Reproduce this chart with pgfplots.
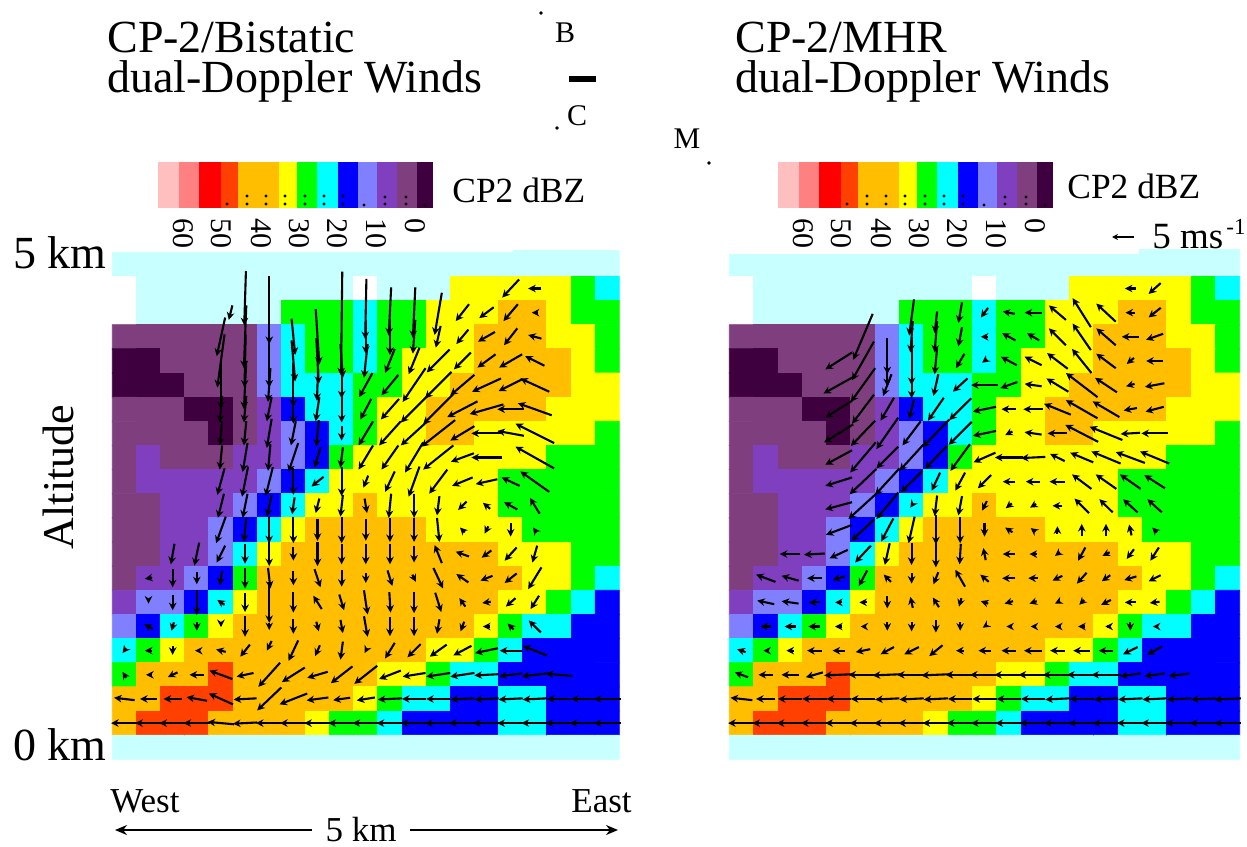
\documentclass[border=0pt]{standalone}
\usepackage{fontspec}
\setmainfont{Liberation Serif}
\usepackage{pgfplots}
\usepackage{pgfplotstable}
\pgfplotsset{compat=1.18}
\usetikzlibrary{arrows.meta}
% reflectivity classes, row by row from the top, 21 per row
\pgfplotstableread[row sep=\\]{c\\
1\\1\\1\\1\\1\\1\\1\\1\\1\\1\\1\\1\\1\\1\\1\\1\\1\\1\\1\\1\\1\\
0\\1\\1\\1\\1\\1\\1\\1\\1\\1\\0\\1\\1\\1\\9\\9\\9\\9\\9\\8\\7\\
0\\1\\1\\1\\1\\1\\1\\8\\8\\8\\7\\8\\8\\9\\9\\9\\10\\10\\9\\8\\8\\
3\\3\\3\\3\\3\\3\\5\\7\\8\\8\\7\\8\\8\\9\\9\\10\\10\\10\\9\\9\\8\\
2\\2\\3\\3\\3\\3\\5\\7\\8\\8\\7\\8\\9\\9\\9\\10\\10\\10\\10\\9\\8\\
2\\2\\2\\3\\3\\3\\5\\7\\7\\7\\8\\8\\9\\9\\10\\10\\10\\10\\10\\9\\9\\
3\\3\\3\\2\\2\\3\\4\\6\\7\\7\\8\\9\\9\\10\\10\\10\\10\\10\\9\\9\\9\\
3\\3\\3\\3\\2\\3\\4\\5\\6\\7\\8\\9\\9\\10\\10\\9\\9\\9\\9\\9\\8\\
3\\4\\3\\3\\3\\4\\4\\5\\6\\8\\9\\9\\9\\9\\9\\9\\9\\9\\8\\8\\8\\
3\\4\\4\\4\\4\\4\\5\\6\\7\\9\\9\\9\\9\\9\\9\\9\\8\\8\\8\\8\\8\\
3\\3\\4\\4\\4\\5\\6\\7\\9\\9\\10\\9\\9\\9\\9\\9\\8\\8\\8\\8\\8\\
3\\3\\4\\4\\5\\6\\7\\9\\10\\10\\10\\10\\10\\9\\9\\9\\9\\8\\8\\8\\8\\
3\\3\\4\\4\\5\\7\\9\\10\\10\\10\\10\\10\\10\\10\\10\\10\\9\\9\\9\\8\\8\\
3\\4\\4\\5\\6\\8\\10\\10\\10\\10\\10\\10\\10\\10\\10\\10\\10\\9\\9\\8\\7\\
4\\5\\5\\6\\7\\9\\10\\10\\10\\10\\10\\10\\10\\10\\10\\10\\9\\9\\8\\7\\6\\
5\\6\\7\\8\\9\\10\\10\\10\\10\\10\\10\\10\\10\\10\\10\\9\\8\\7\\7\\6\\6\\
7\\8\\9\\10\\10\\10\\10\\10\\10\\10\\10\\10\\10\\9\\9\\8\\7\\6\\6\\6\\6\\
8\\10\\10\\10\\11\\10\\10\\10\\10\\10\\10\\9\\9\\8\\7\\7\\6\\6\\6\\6\\6\\
10\\10\\11\\11\\11\\10\\10\\10\\10\\10\\9\\8\\7\\7\\6\\6\\7\\7\\6\\6\\6\\
10\\11\\11\\11\\10\\10\\10\\10\\9\\8\\8\\7\\6\\6\\6\\6\\7\\7\\6\\6\\6\\
1\\1\\1\\1\\1\\1\\1\\1\\1\\1\\1\\1\\1\\1\\1\\1\\1\\1\\1\\1\\1\\
}\gridtable
% left winds: column, row (centre of arrow), u, v (v is downward), in cell units
\pgfplotstableread[row sep=\\]{x y u v\\
16 1 -0.7 0.75\\ 17 1 -0.55 0\\
4.4 2 -0.15 0.6\\ 5 1.4 -0.07 2.25\\ 6 1.9 0 2.8\\ 9 2.45 -0.05 4.3\\ 10 1.85 -0.05 2.5\\ 11 1.95 -0.1 2\\ 12 2 -0.1 2.1\\ 13 2.05 -0.3 1.75\\ 14 2 -0.55 0.7\\ 15 2 -0.6 0.45\\ 16 2 -0.6 0.7\\ 17 2 -0.25 0\\
4 3 -0.35 1.6\\ 5 3 -0.1 2.6\\ 7 3 0.15 1.5\\ 8 3 0.15 2.3\\ 10 3 0 1.4\\ 11 3 0 1.5\\ 12 3 -0.1 1.4\\ 13 3 -0.2 0.9\\ 14 3 -0.5 0.6\\ 15 3 -0.7 0.4\\ 16 3 -0.55 0.7\\ 17 3 -0.55 -0.15\\
4 4 -0.3 2.2\\ 5 4 -0.05 2.2\\ 6 4 0 2.2\\ 7 4 0.15 1.7\\ 8 4 0.1 1.9\\ 9 4 0.1 1.4\\ 10 4 -0.15 1.4\\ 11 4 -0.4 1\\ 12 4 -0.45 1.1\\ 13 4 -0.95 0.95\\ 14 4 -0.7 0.7\\ 15 4 -0.75 0.55\\ 16 4 -0.95 0.55\\ 17 4 -0.8 -0.4\\
4 5 0 2\\ 5 5 -0.1 2\\ 6 5 -0.1 1.4\\ 7 5 0 1.8\\ 8 5 -0.05 1.3\\ 9 5 0 1.1\\ 10 5 -0.55 1\\ 11 5 -0.7 0.85\\ 12 5 -0.95 1.4\\ 13 5 -1.1 1.1\\ 14 5 -1 0.85\\ 15 5 -1.2 0.55\\ 16 5 -1 0.5\\ 17 5 -1.2 -0.55\\
4 6 -0.1 1.1\\ 5 6 -0.1 1.1\\ 6 6 -0.2 1\\ 7 6 0 1.2\\ 8 6 -0.15 1\\ 9 6 0 1.1\\ 10 6 -0.45 0.85\\ 11 6 -0.75 0.85\\ 12 6 -1.1 1.1\\ 13 6 -1.25 1.25\\ 14 6 -1.25 0.65\\ 15 6 -1.4 0.4\\ 16 6 -1.1 0\\ 17 6 -1.4 -0.5\\
4 7 -0.1 1\\ 5 7 -0.1 1\\ 6 7 -0.2 1.2\\ 7 7 -0.2 1\\ 8 7 -0.1 1.1\\ 9 7 0 0.6\\ 10 7 -0.6 1\\ 11 7 -0.9 1\\ 12 7 -1.1 1\\ 13 7 -1.4 1.1\\ 14 7 -1 0.6\\ 15 7 -1.25 0\\ 16 7 -1.1 -0.2\\ 17 7 -1.6 -0.8\\
4 8 -0.1 1\\ 5 8 -0.2 1.2\\ 6 8 -0.1 1.1\\ 7 8 -0.4 1.2\\ 8 8 -0.25 0.85\\ 9 8 -0.1 0.85\\ 10 8 -0.6 1\\ 11 8 -0.7 1\\ 12 8 -0.75 1.25\\ 13 8 -1.25 1\\ 14 8 -0.95 0.35\\ 15 8 -1.25 0\\ 17 8 -1.6 -0.9\\
4 9 -0.3 1.1\\ 5 9 -0.25 1.25\\ 6 9 -0.3 1.2\\ 7 9 0 1.1\\ 8 9 -0.5 0.4\\ 9 9 0 1.2\\ 10 9 -0.2 0.5\\ 11 9 -0.4 0.85\\ 12 9 -0.45 1.25\\ 13 9 -0.75 1\\ 14 9 -0.85 0.35\\ 15 9 -0.9 0.2\\ 16 9 -0.75 -0.35\\ 17 9 -1.2 -0.85\\
4 10 -0.25 1\\ 5 10 -0.2 1\\ 6 10 -0.2 0.9\\ 7 10 -0.1 0.7\\ 8 10 -0.15 0.6\\ 9 10 -0.1 0.9\\ 10 10 0.1 0.6\\ 11 10 -0.1 1\\ 12 10 0 1\\ 13 10 -0.1 0.8\\ 14 10 -0.35 0.35\\ 15 10 -0.3 -0.25\\ 16 10 -0.55 -0.3\\ 17 10 -0.4 -0.65\\
4 11 -0.4 1.1\\ 5 11 -0.1 1\\ 6 11 0 1.1\\ 7 11 0 1.1\\ 8 11 0 0.9\\ 9 11 0 1.1\\ 10 11 0 0.9\\ 11 11 0 1\\ 12 11 0 1\\ 13 11 0.1 1\\ 14 11 -0.2 -0.2\\ 15 11 -0.15 0.3\\ 16 11 0 0.55\\ 17 11 -0.15 -0.2\\
2 12 -0.15 0.85\\ 3 12 -0.2 0.95\\ 4 12 -0.35 0.7\\ 5 12 0 0.8\\ 6 12 0 1\\ 7 12 0 0.55\\ 8 12 0 1\\ 9 12 0 0.85\\ 10 12 0 0.85\\ 11 12 0 0.85\\ 12 12 0 0.7\\ 13 12 -0.3 -0.75\\ 14 12 -0.55 -0.2\\ 15 12 -0.4 0.3\\ 16 12 -0.5 0.55\\ 17 12 -0.2 0.7\\
1 13 -0.3 0.05\\ 2 13 0 0.75\\ 3 13 0 0.5\\ 4 13 -0.1 0.6\\ 5 13 0 0.85\\ 6 13 0.1 0.85\\ 7 13 0 0.6\\ 8 13 0.25 0.75\\ 9 13 0 0.7\\ 10 13 0 0.4\\ 11 13 0.2 0.65\\ 12 13 0.15 0.3\\ 13 13 0.4 0.85\\ 14 13 -0.5 -0.35\\ 15 13 -0.5 0.2\\ 16 13 -0.5 0.4\\ 17 13 -0.55 0.9\\
1 14 0 0.1\\ 2 14 0 0.65\\ 3 14 0 1.05\\ 4 14 -0.3 -0.2\\ 5 14 0 0.8\\ 6 14 0 1.7\\ 7 14 0 0.85\\ 8 14 -0.35 -0.55\\ 9 14 0.2 0.65\\ 10 14 0.15 1\\ 11 14 0.05 0.85\\ 12 14 0 0.9\\ 13 14 0.25 0.8\\ 14 14 -0.25 -0.35\\ 15 14 -0.35 0.05\\ 16 14 -0.4 0.35\\ 17 14 -0.35 0.55\\
1 15 -0.35 -0.2\\ 2 15 -0.1 0.35\\ 3 15 0 0.35\\ 4 15 0 0.05\\ 5 15 0 0.85\\ 6 15 0 0.3\\ 7 15 0 0.6\\ 8 15 0.1 0.4\\ 9 15 0.1 0.55\\ 10 15 0.15 0.85\\ 11 15 0 0.8\\ 12 15 0 0.8\\ 13 15 -0.1 0.6\\ 14 15 -0.15 0.4\\ 15 15 -0.3 0\\ 16 15 -0.25 -0.25\\ 17 15 -0.5 -0.5\\
0 16 -0.15 0.2\\ 1 16 -0.3 0\\ 2 16 0 0.35\\ 3 16 -0.15 0\\ 4 16 -0.4 -0.1\\ 5 16 -0.4 0.5\\ 6 15.8 -0.2 0.4\\ 7 16 -0.4 0.85\\ 8 16 -0.2 0.45\\ 9 16 -0.1 0.75\\ 10 16 -0.1 0.2\\ 11 16 -0.4 0.65\\ 12 16 -0.55 0.55\\ 13 16 -0.7 0.5\\ 14 16 -0.75 0.4\\ 15 16 -0.95 0.2\\ 16 16 -0.9 0\\ 17 16 -1 -0.4\\
0 17 -0.15 -0.25\\ 1 17 -0.2 0\\ 2 17 -0.4 0.2\\ 3 17 -0.6 0\\ 4 17 -0.95 -0.35\\ 5 17 -0.7 0.15\\ 6 17 -0.9 1\\ 7 17 -0.95 0.6\\ 8 17 -0.85 0.25\\ 9 17 -0.9 0.7\\ 10 17 -0.95 0.75\\ 11 17 -0.9 0.35\\ 12 17 -0.95 0.15\\ 13 17 -1 0.15\\ 14 17 -1 0.15\\ 15 17 -1 0.05\\ 16 17 -0.95 0.12\\ 17 17 -1.1 0.12\\ 18 17 -1.1 -0.1\\
0 18 -0.85 -0.1\\ 1 18 -0.7 0\\ 2 18 -0.75 0\\ 3 18 -0.85 -0.15\\ 4 18 -1 -0.45\\ 5 18 -0.95 0.05\\ 6 18 -1 0.95\\ 7 18 -1.15 0.45\\ 8 18 -0.9 0.12\\ 9 18 -0.7 0.1\\ 10 18 -0.75 0.12\\ 11 18 -1 0.05\\ 12 18 -1 0\\ 13 18 -1 0\\ 14 18 -1 0.05\\ 15 18 -1 0.05\\ 16 18 -1 0.05\\ 17 18 -1 0.05\\ 18 18 -1 0\\ 19 18 -1 0\\ 20 18 -1.1 0\\
0 19 -1.1 0\\ 1 19 -1.1 0\\ 2 19 -1.1 0\\ 3 19 -1.1 0\\ 4 19 -1.1 -0.1\\ 5 19 -1 0.05\\ 6 19 -1.1 0\\ 7 19 -1.1 0\\ 8 19 -1.1 0\\ 9 19 -1.1 0\\ 10 19 -1.1 0\\ 11 19 -1.1 0\\ 12 19 -1.1 0\\ 13 19 -1.1 0\\ 14 19 -1.1 0\\ 15 19 -1.1 0\\ 16 19 -1.1 0\\ 17 19 -1.1 0\\ 18 19 -1.1 0\\ 19 19 -1.1 0\\ 20 19 -1.1 0\\
}\leftwinds
% right winds
\pgfplotstableread[row sep=\\]{x y u v\\
16 1 -0.45 0\\ 17 1 -0.5 0.45\\
7 2.2 -0.2 1.5\\ 8 2.4 -0.1 0.9\\ 9 2 -0.15 0.85\\ 10 2 -0.3 0.4\\ 11 2 -0.5 -0.1\\ 12 2 -0.7 0\\ 13 2 -0.7 -0.6\\ 14 2 -0.75 -1.2\\ 15 2 -0.8 -0.75\\ 16 2 -0.4 0\\ 17 2 -0.5 0.4\\
5 3 -0.8 1.9\\ 6 3.8 0 1.5\\ 7 3 -0.1 1.3\\ 8 3 -0.1 1.3\\ 9 3 -0.15 0.8\\ 10 3 -0.3 0\\ 11 3 -0.55 -0.3\\ 12 3 -0.5 -0.3\\ 13 3 -0.7 -0.7\\ 14 3 -0.75 -1.1\\ 15 3 -0.8 -0.7\\ 16 3 -0.7 0\\ 17 3 -0.7 0.25\\
4 4 -1.1 0.7\\ 5 4 -0.9 1.6\\ 6 4.5 0 1.1\\ 7 4 0 2\\ 8 4 -0.1 1.1\\ 9 4 -0.35 0.6\\ 10 4 -0.2 0.15\\ 11 4 -0.65 -0.35\\ 12 4 -0.7 -0.35\\ 13 4 -0.85 -0.65\\ 14 4 -0.8 -1\\ 15 4 -0.8 -0.6\\ 16 4 -0.3 0.25\\ 17 4 -0.7 0\\
4 5 -1.25 0.7\\ 5 5 -1 1.4\\ 6 5 -0.35 0.9\\ 7 5 0 1.1\\ 8 5 -0.2 0.9\\ 9 5 -0.6 0.55\\ 10 5 -1.1 0\\ 11 5 -0.7 0.25\\ 12 5 -0.7 -0.1\\ 13 5 -0.9 -0.55\\ 14 5 -1.3 -1\\ 15 5 -0.9 -0.6\\ 16 5 -0.35 0.1\\ 17 5 -0.8 0.15\\
4 6 -1.1 0.7\\ 5 6 -0.9 1.2\\ 6 6 -0.55 0.95\\ 7 6 -0.2 0.8\\ 8 6 -0.65 0.95\\ 9 6 -0.9 0.9\\ 10 6 -0.95 0.2\\ 11 6 -0.6 0\\ 12 6 -0.8 0\\ 13 6 -1.1 -0.45\\ 14 6 -1.3 -0.75\\ 15 6 -1.1 -0.65\\ 16 6 -0.55 0.1\\ 17 6 -0.75 0.2\\
4 7 -1.2 0.75\\ 5 7 -1 1.05\\ 6 7 -0.9 1.3\\ 7 7 -0.75 1\\ 8 7 -1.1 1.15\\ 9 7 -0.95 0.95\\ 10 7 -0.95 0.2\\ 11 7 -0.3 0.15\\ 12 7 -0.7 -0.1\\ 13 7 -0.8 0\\ 14 7 -1.35 -0.7\\ 15 7 -1.35 -0.55\\ 16 7 -0.8 0.05\\ 17 7 -1.1 0\\
4 8 -1.1 0.6\\ 5 8 -1.05 1.25\\ 6 8 -0.9 0.9\\ 7 8 -1 1.1\\ 8 8 -0.9 0.95\\ 9 8 -0.8 1.1\\ 10 8 -0.9 0.4\\ 11 8 -1.15 0\\ 12 8 -1 0.05\\ 13 8 -0.6 -0.3\\ 14 8 -0.95 -0.4\\ 15 8 -1.2 -0.5\\ 16 8 -1.2 -0.45\\ 17 8 -1.2 -0.5\\
4 9 -1.1 0.35\\ 5 9 -1.1 1.05\\ 6 9 -1 1.1\\ 7 9 -0.9 0.9\\ 8 9 -0.35 0.75\\ 9 9 -0.4 0.75\\ 10 9 -0.55 0.55\\ 11 9 -0.5 0\\ 12 9 -0.6 0\\ 13 9 -0.65 0\\ 14 9 -0.8 -0.6\\ 15 9 -0.85 -0.6\\ 16 9 -0.85 -0.6\\ 17 9 -0.85 -0.55\\
4 10 -1.1 0.3\\ 5 10 -1.2 1.1\\ 6 10 -0.9 1.1\\ 7 10 -0.1 0.15\\ 8 10 -0.1 0.85\\ 9 10 -0.15 0.8\\ 10 10 -0.2 0.4\\ 11 10 -0.25 0.2\\ 12 10 -0.25 0.15\\ 13 10 -0.4 0\\ 14 10 -0.6 -0.6\\ 15 10 -0.55 -0.55\\ 16 10 -0.6 -0.55\\ 17 10 -0.6 -0.55\\
4 11 -1.05 0.4\\ 5 11 -0.95 0.9\\ 6 11 -0.5 0.95\\ 7 11 -0.25 1.1\\ 8 11 0 1.2\\ 9 11 0 1.1\\ 10 11 0 0.55\\ 11 11 -0.3 -0.2\\ 12 11 -0.2 -0.15\\ 13 11 0 -0.3\\ 14 11 0 -0.5\\ 15 11 0 -0.5\\ 16 11 -0.1 -0.45\\ 17 11 -0.2 -0.2\\
2 12 -0.85 0\\ 3 12 -0.85 0.05\\ 4 12 -0.75 0.35\\ 5 12 -0.65 0.7\\ 6 12 -0.2 0.9\\ 7 12 0 0.9\\ 8 12 0 1.1\\ 9 12 -0.05 0.85\\ 10 12 -0.1 -0.5\\ 11 12 -0.5 0\\ 12 12 -0.3 0\\ 13 12 -0.2 0.15\\ 14 12 -0.3 0.55\\ 15 12 -0.3 0.15\\ 16 12 -0.3 0.4\\ 17 12 -0.35 0.55\\
1 13 -0.8 -0.3\\ 2 13 -0.7 -0.2\\ 3 13 -0.6 0\\ 4 13 -0.5 0.15\\ 5 13 -0.35 0.65\\ 6 13 -0.3 -0.3\\ 7 13 0 0.45\\ 8 13 -0.2 0.5\\ 9 13 -0.4 -0.7\\ 10 13 -0.35 -0.3\\ 11 13 -0.55 0\\ 12 13 -0.4 0\\ 13 13 -0.4 0.2\\ 14 13 -0.4 0.45\\ 15 13 -0.35 0.25\\ 16 13 -0.5 0.15\\ 17 13 -0.5 0.25\\
1 14 -0.7 -0.15\\ 2 14 -0.7 -0.1\\ 3 14 -0.45 0\\ 4 14 -0.3 0\\ 5 14 -0.3 0\\ 6 14 0 0.5\\ 7 14 -0.1 -0.45\\ 8 14 -0.25 -0.4\\ 9 14 -0.1 0.35\\ 10 14 -0.3 -0.1\\ 11 14 -0.35 0.1\\ 12 14 -0.3 0.1\\ 13 14 -0.2 0.1\\ 14 14 -0.2 0.2\\ 15 14 -0.4 0.2\\ 16 14 -0.45 0\\ 17 14 -0.4 0.05\\
1 15 -0.45 0\\ 2 15 -0.45 0\\ 3 15 -0.5 0\\ 4 15 -0.3 0\\ 5 15 -0.2 0\\ 6 15 0 0.35\\ 7 15 0 0.4\\ 8 15 0 0.5\\ 9 15 0 0.35\\ 10 15 -0.15 0.1\\ 11 15 -0.2 0\\ 12 15 -0.2 0\\ 13 15 -0.2 0\\ 14 15 -0.3 0\\ 15 15 -0.05 0\\ 16 15 0 0.35\\ 17 15 -0.15 0\\
0 16 -0.35 -0.12\\ 1 16 -0.2 0\\ 2 16 -0.3 0\\ 3 16 -0.6 0\\ 4 16 -0.5 0\\ 5 16 -0.6 0.12\\ 6 16 -0.55 0.3\\ 7 16 -0.6 0.3\\ 8 16 -0.55 0.45\\ 9 16 -0.35 0\\ 10 16 -0.5 0\\ 11 16 -0.6 0\\ 12 16 -0.75 0\\ 13 16 -0.6 0\\ 14 16 -0.7 0\\ 15 16 -0.6 0\\ 16 16 -0.6 0.3\\ 17 16 -0.6 0.35\\
0 17 -0.55 -0.2\\ 1 17 -0.6 0\\ 2 17 -0.7 0\\ 3 17 -0.7 0.2\\ 4 17 -1.2 0.05\\ 5 17 -1.2 0\\ 6 17 -1.2 0.05\\ 7 17 -1.2 0\\ 8 17 -1.2 0.05\\ 9 17 -1.2 0\\ 10 17 -1.2 0\\ 11 17 -1.2 0\\ 12 17 -1.2 0\\ 13 17 -1.2 0\\ 14 17 -1.2 0\\ 15 17 -1.2 0\\ 16 17 -0.85 0.12\\ 17 17 -0.85 0.12\\ 18 17 -0.85 0.1\\
0 18 -0.9 -0.1\\ 1 18 -0.8 0\\ 2 18 -1 0\\ 3 18 -1 0\\ 4 18 -1 0\\ 5 18 -1 0\\ 6 18 -1 0.05\\ 7 18 -1 0.05\\ 8 18 -1 0.05\\ 9 18 -1 0\\ 10 18 -1 0\\ 11 18 -1 0\\ 12 18 -1 0\\ 13 18 -1 0.05\\ 14 18 -1 0\\ 15 18 -1 0.05\\ 16 18 -1 0.05\\ 17 18 -1 0.05\\ 18 18 -1 0.05\\ 19 18 -1 0.05\\ 20 18 -1.1 0.05\\
0 19 -1.1 0\\ 1 19 -1.1 0\\ 2 19 -1.1 0\\ 3 19 -1.1 0\\ 4 19 -1.1 0\\ 5 19 -1.1 0\\ 6 19 -1.1 0\\ 7 19 -1.1 0\\ 8 19 -1.1 0\\ 9 19 -1.1 0\\ 10 19 -1.1 0\\ 11 19 -1.1 0\\ 12 19 -1.1 0\\ 13 19 -1.1 0\\ 14 19 -1.1 0\\ 15 19 -1.1 0\\ 16 19 -1.1 0\\ 17 19 -1.1 0\\ 18 19 -1.1 0\\ 19 19 -1.1 0\\ 20 19 -1.1 0\\
}\rightwinds
\pgfplotsset{
 panel/.style={hide axis,scale only axis,clip=false,height=253.5pt,
  xmin=-0.5,xmax=20.5,ymin=-0.5,ymax=20.5,y dir=reverse,anchor=south west,
  colormap={cp}{rgb255=(255,255,255) rgb255=(200,255,255) rgb255=(63,0,63) rgb255=(127,63,127) rgb255=(127,63,191) rgb255=(128,128,255) rgb255=(0,0,255) rgb255=(0,255,255) rgb255=(0,255,0) rgb255=(255,255,0) rgb255=(255,191,0) rgb255=(255,64,0)},
  colormap access=direct},
 grid plot/.style={matrix plot*,mesh/cols=21,mesh/ordering=x varies,point meta=\thisrow{c}},
 wind/.style={quiver={u=\thisrow{u},v=\thisrow{v}},black,line width=1.05pt,-{Stealth[length=3.8pt,width=3.8pt]}},
}
\newcommand\cb[4]{\pgfmathtruncatemacro\cba{#1+#2}\pgfmathtruncatemacro\cbb{#1+#3}%
 \edef\temp{\noexpand\addplot[fill=#4,draw=none,forget plot] coordinates {(\cba,162)(\cbb,162)(\cbb,208)(\cba,208)} --cycle;}\temp}
\newcommand\cbar[1]{%
 \cb{#1}{158}{179}{cb1}\cb{#1}{179}{199}{cb2}\cb{#1}{199}{221}{cb3}\cb{#1}{221}{238}{cb4}\cb{#1}{238}{279}{cb5}\cb{#1}{279}{297}{cb6}\cb{#1}{297}{317}{cb7}\cb{#1}{317}{338}{cb8}\cb{#1}{338}{358}{cb9}\cb{#1}{358}{377}{cb10}\cb{#1}{377}{397}{cb11}\cb{#1}{397}{417}{cb12}\cb{#1}{417}{433}{cb13}}
\definecolor{cb1}{RGB}{255,191,191}\definecolor{cb2}{RGB}{255,128,128}\definecolor{cb3}{RGB}{255,0,0}\definecolor{cb4}{RGB}{255,64,0}\definecolor{cb5}{RGB}{255,191,0}\definecolor{cb6}{RGB}{255,255,0}\definecolor{cb7}{RGB}{0,255,0}\definecolor{cb8}{RGB}{0,255,255}\definecolor{cb9}{RGB}{0,0,255}\definecolor{cb10}{RGB}{128,128,255}\definecolor{cb11}{RGB}{127,63,191}\definecolor{cb12}{RGB}{127,63,127}\definecolor{cb13}{RGB}{63,0,63}
\definecolor{lcy}{RGB}{200,255,255}
\newcommand\fs[1]{\fontsize{#1}{#1}\selectfont}
\newcommand\ticks[1]{%
 \foreach \xx/\lab in {181/60,219/50,259/40,297/30,335/20,374/10,413/0}{%
  \edef\temp{\noexpand\node[rotate=-90,anchor=base west,font=\noexpand\fs{15},inner sep=0pt] at (axis cs:\the\numexpr\xx+#1-8\relax,218) {\lab};}\temp}}
\begin{document}
\begin{tikzpicture}
\path[use as bounding box] (0pt,0pt) rectangle (623.5pt,423pt);
\begin{axis}[panel,width=253.5pt,at={(56.15pt,43.35pt)}]
 \addplot[grid plot] table[x index=0,y index=0,x expr={mod(\coordindex,21)},y expr={floor((\coordindex+0.5)/21)}]{\gridtable};
\end{axis}
\begin{axis}[panel,width=255.2pt,at={(364.65pt,43.35pt)}]
 \addplot[grid plot] table[x index=0,y index=0,x expr={mod(\coordindex,21)},y expr={floor((\coordindex+0.5)/21)}]{\gridtable};
\end{axis}
\begin{axis}[hide axis,scale only axis,clip=false,width=623.5pt,height=423pt,at={(0pt,0pt)},anchor=south west,
  xmin=0,xmax=1247,ymin=0,ymax=846,y dir=reverse]
 % the uneven top edge of the two panels
 \addplot[fill=lcy,draw=none,forget plot] coordinates {(513,250)(619.3,250)(619.3,253)(513,253)} --cycle;
 \addplot[fill=lcy,draw=none,forget plot] coordinates {(1139,249)(1239.7,249)(1239.7,253)(1139,253)} --cycle;
 \addplot[fill=white,draw=none,forget plot] coordinates {(728,251)(1139,251)(1139,254.3)(728,254.3)} --cycle;
\end{axis}
\begin{axis}[panel,width=253.5pt,at={(56.15pt,43.35pt)}]
 \addplot[wind] table[x expr={\thisrow{x}-0.5*\thisrow{u}},y expr={\thisrow{y}-0.5*\thisrow{v}}]{\leftwinds};
\end{axis}
\begin{axis}[panel,width=255.2pt,at={(364.65pt,43.35pt)}]
 \addplot[wind] table[x expr={\thisrow{x}-0.5*\thisrow{u}},y expr={\thisrow{y}-0.5*\thisrow{v}}]{\rightwinds};
\end{axis}
\begin{axis}[hide axis,scale only axis,clip=false,width=623.5pt,height=423pt,at={(0pt,0pt)},anchor=south west,
  xmin=0,xmax=1247,ymin=0,ymax=846,y dir=reverse]
 \cbar{0}
 \cbar{620}
 \ticks{0}
 \ticks{620}
 \addplot[black,only marks,mark=*,mark size=0.55pt,forget plot] coordinates {(227,204)(247,196)(247,204)(266,196)(266,204)(285,196)(285,204)(305,196)(305,204)(324,196)(324,204)(343,196)(343,204)(364,205)(385,197)(385,204)(406,197)(406,204)(425,205)(847,204)(867,196)(867,204)(886,196)(886,204)(905,196)(905,204)(925,196)(925,204)(944,196)(944,204)(963,196)(963,204)(984,205)(1005,197)(1005,204)(1026,197)(1026,204)(1045,205)};
 \addplot[black,line width=3pt,forget plot] coordinates {(569,79)(596,79)};
 \addplot[black,only marks,mark=*,mark size=0.7pt,forget plot] coordinates {(541,13)(557,128)(709,163)};
 \addplot[black,line width=0.9pt,-{Stealth[length=6pt,width=5pt]},forget plot] coordinates {(312,830)(115,830)};
 \addplot[black,line width=0.9pt,-{Stealth[length=6pt,width=5pt]},forget plot] coordinates {(410,830)(618,830)};
 \addplot[black,line width=0.8pt,-{Stealth[length=3pt,width=3pt]},forget plot] coordinates {(1134,237)(1112,237)};
 \node[anchor=base west,font=\fs{23},inner sep=0pt] at (axis cs:107,52) {CP-2/Bistatic};
 \node[anchor=base west,font=\fs{23},inner sep=0pt] at (axis cs:107,92) {dual-Doppler Winds};
 \node[anchor=base west,font=\fs{23},inner sep=0pt] at (axis cs:735,52) {CP-2/MHR};
 \node[anchor=base west,font=\fs{23},inner sep=0pt] at (axis cs:735,92) {dual-Doppler Winds};
 \node[anchor=base west,font=\fs{23},inner sep=0pt] at (axis cs:13,268) {5 km};
 \node[anchor=base west,font=\fs{23},inner sep=0pt] at (axis cs:13,760) {0 km};
 \node[rotate=90,font=\fs{22},inner sep=0pt] at (axis cs:58,477) {Altitude};
 \node[anchor=base west,font=\fs{17.5},inner sep=0pt] at (axis cs:110,812) {West};
 \node[anchor=base west,font=\fs{17.5},inner sep=0pt] at (axis cs:571,812) {East};
 \node[anchor=base,font=\fs{17.5},inner sep=0pt] at (axis cs:361,841) {5 km};
 \node[anchor=base west,font=\fs{17.7},inner sep=0pt] at (axis cs:452,202) {CP2 dBZ};
 \node[anchor=base west,font=\fs{17.7},inner sep=0pt] at (axis cs:1067,198) {CP2 dBZ};
 \node[anchor=base west,font=\fs{18.5},inner sep=0pt] at (axis cs:1152,248) {5 ms\kern1.5pt\raisebox{7pt}{\fs{11.5}-1}};
 \node[font=\fs{15},inner sep=0pt] at (axis cs:565,33) {B};
 \node[font=\fs{15},inner sep=0pt] at (axis cs:577,116) {C};
 \node[font=\fs{15},inner sep=0pt] at (axis cs:687,139) {M};
\end{axis}
\end{tikzpicture}
\end{document}
